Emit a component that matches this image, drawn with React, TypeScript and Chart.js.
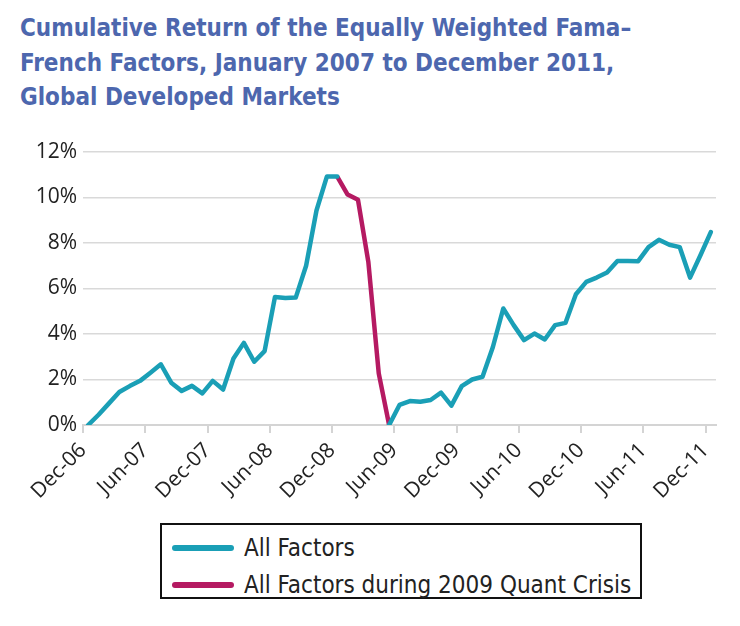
import React, { useEffect, useRef } from "react";
import { Chart, registerables } from "chart.js";

Chart.register(...registerables);

const months: string[] = [
  "Dec-06","Jan-07","Feb-07","Mar-07","Apr-07","May-07","Jun-07","Jul-07","Aug-07","Sep-07","Oct-07","Nov-07",
  "Dec-07","Jan-08","Feb-08","Mar-08","Apr-08","May-08","Jun-08","Jul-08","Aug-08","Sep-08","Oct-08","Nov-08",
  "Dec-08","Jan-09","Feb-09","Mar-09","Apr-09","May-09","Jun-09","Jul-09","Aug-09","Sep-09","Oct-09","Nov-09",
  "Dec-09","Jan-10","Feb-10","Mar-10","Apr-10","May-10","Jun-10","Jul-10","Aug-10","Sep-10","Oct-10","Nov-10",
  "Dec-10","Jan-11","Feb-11","Mar-11","Apr-11","May-11","Jun-11","Jul-11","Aug-11","Sep-11","Oct-11","Nov-11",
  "Dec-11",
];

const allFactors: (number | null)[] = [
  0, 0.45, 0.95, 1.45, 1.71, 1.94, 2.3, 2.67, 1.86, 1.5, 1.72, 1.39,
  1.94, 1.56, 2.92, 3.61, 2.78, 3.25, 5.63, 5.58, 5.6, 7.0, 9.43, 10.92,
  10.92, null, null, null, null, 0, 0.88, 1.05, 1.02, 1.1, 1.42, 0.85,
  1.71, 2.0, 2.12, 3.43, 5.12, 4.39, 3.73, 4.02, 3.76, 4.39, 4.49, 5.75,
  6.29, 6.48, 6.7, 7.21, 7.21, 7.2, 7.82, 8.14, 7.92, 7.82, 6.48, 7.46,
  8.48,
];

const quantCrisis: (number | null)[] = [
  null, null, null, null, null, null, null, null, null, null, null, null,
  null, null, null, null, null, null, null, null, null, null, null, null,
  10.92, 10.13, 9.9, 7.16, 2.27, 0, null, null, null, null, null, null,
  null, null, null, null, null, null, null, null, null, null, null, null,
  null, null, null, null, null, null, null, null, null, null, null, null,
  null,
];

const tickLabels: string[] = [
  "Dec-06","Jun-07","Dec-07","Jun-08","Dec-08","Jun-09","Dec-09","Jun-10","Dec-10","Jun-11","Dec-11",
];

const TEAL = "#1a9fb6";
const MAGENTA = "#b51a62";

export default function App() {
  const ref = useRef<HTMLCanvasElement | null>(null);

  useEffect(() => {
    if (!ref.current) return;
    const toPts = (arr: (number | null)[]) =>
      arr.map((v, i) => ({ x: i + 0.5, y: v as any, m: months[i] }));
    const chart = new Chart(ref.current, {
      type: "line",
      data: {
        datasets: [
          {
            label: "All Factors",
            data: toPts(allFactors),
            borderColor: TEAL,
            backgroundColor: TEAL,
            borderWidth: 4.5,
            pointRadius: 0,
            tension: 0,
            spanGaps: false,
            borderJoinStyle: "round",
            borderCapStyle: "round",
          },
          {
            label: "All Factors during 2009 Quant Crisis",
            data: toPts(quantCrisis),
            borderColor: MAGENTA,
            backgroundColor: MAGENTA,
            borderWidth: 4.5,
            pointRadius: 0,
            tension: 0,
            spanGaps: false,
            borderJoinStyle: "round",
            borderCapStyle: "butt",
          },
        ],
      },
      options: {
        animation: false,
        responsive: false,
        maintainAspectRatio: false,
        layout: { padding: { top: 32, right: 24, left: 0, bottom: 0 } },
        plugins: {
          legend: { display: false },
          tooltip: { enabled: false },
        },
        scales: {
          x: {
            type: "linear",
            min: 0,
            max: 61,
            afterBuildTicks: (scale: any) => {
              scale.ticks = tickLabels.map((_, k) => ({ value: k * 6 }));
            },
            afterFit: (scale: any) => {
              scale.height = 95;
            },
            ticks: {
              autoSkip: false,
              maxRotation: 45,
              minRotation: 45,
              padding: 5,
              color: "#222",
              font: { family: "'Open Sans'", size: 21 },
              callback: (v: any) => tickLabels[Math.round(Number(v) / 6)] ?? "",
            },
            grid: {
              drawOnChartArea: false,
              drawTicks: true,
              tickLength: 8,
              color: "#d4d4d4",
              lineWidth: 2,
            },
            border: { display: true, color: "#d4d4d4", width: 2 },
          },
          y: {
            min: 0,
            max: 12,
            afterFit: (scale: any) => {
              scale.width = 83;
            },
            ticks: {
              stepSize: 2,
              padding: 6,
              color: "#222",
              font: { family: "'Open Sans'", size: 21 },
              callback: (v: any) => `${v}%`,
            },
            grid: {
              drawTicks: false,
              color: "#d9d9d9",
              lineWidth: 1.5,
            },
            border: { display: false },
          },
        },
      },
    });
    return () => chart.destroy();
  }, []);

  const legendRow = (color: string, text: string, top: number) => (
    <div style={{ position: "absolute", left: 10, top, height: 32, display: "flex", alignItems: "center" }}>
      <div style={{ width: 62, height: 6, borderRadius: 3, background: color, marginRight: 10 }} />
      <span style={{ fontFamily: "'DejaVu Sans Condensed', 'DejaVu Sans'", fontSize: 24, color: "#222", whiteSpace: "nowrap" }}>
        {text}
      </span>
    </div>
  );

  return (
    <div style={{ position: "fixed", left: 0, top: 0, width: 740, height: 626, background: "#fff", overflow: "hidden" }}>
      <div
        style={{
          position: "absolute",
          left: 20,
          top: 11,
          fontFamily: "'DejaVu Sans Condensed', 'DejaVu Sans'",
          fontWeight: "bold",
          fontSize: 24,
          lineHeight: "34.5px",
          color: "#4d67ae",
          whiteSpace: "nowrap",
        }}
      >
        Cumulative Return of the Equally Weighted Fama–
        <br />
        French Factors, January 2007 to December 2011,
        <br />
        Global Developed Markets
      </div>
      <canvas ref={ref} width={740} height={400} style={{ position: "absolute", left: 0, top: 120, width: 740, height: 400 }} />
      <div
        style={{
          position: "absolute",
          left: 160,
          top: 523,
          width: 478,
          height: 72,
          border: "2px solid #111",
        }}
      >
        {legendRow(TEAL, "All Factors", 7)}
        {legendRow(MAGENTA, "All Factors during 2009 Quant Crisis", 44)}
      </div>
    </div>
  );
}
